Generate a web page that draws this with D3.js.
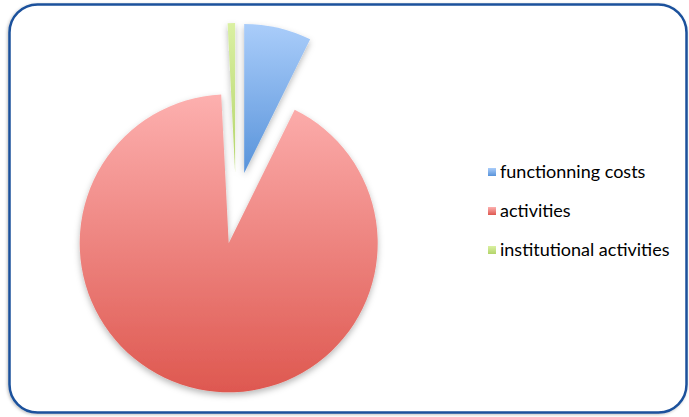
<!DOCTYPE html>
<html>
<head>
<meta charset="utf-8">
<script src="https://cdn.jsdelivr.net/npm/d3@7"></script>
<style>
  body { margin: 0; background: #fff; }
  svg { display: block; }
</style>
</head>
<body>
<div id="chart"></div>
<script>
// slice data (percent)
const categories = ["functionning costs", "activities", "institutional activities"];
const values = [7.3, 91.9, 0.8];
const topColors = ["#aacdfa", "#fdb0af", "#daf0a2"];
const bottomColors = ["#5893da", "#de5850", "#b3d46a"];

const width = 689, height = 417;

const svg = d3.select("#chart").append("svg")
    .attr("width", width)
    .attr("height", height);

const defs = svg.append("defs");

// soft shadow under the slices
const shadow = defs.append("filter")
    .attr("id", "shadow")
    .attr("x", "-20%").attr("y", "-20%")
    .attr("width", "140%").attr("height", "140%");
shadow.append("feDropShadow")
    .attr("dx", 0).attr("dy", 3)
    .attr("stdDeviation", 3)
    .attr("flood-color", "#000")
    .attr("flood-opacity", 0.28);

const frameShadow = defs.append("filter")
    .attr("id", "frameShadow")
    .attr("x", "-5%").attr("y", "-5%")
    .attr("width", "110%").attr("height", "110%");
frameShadow.append("feDropShadow")
    .attr("dx", -1).attr("dy", 1)
    .attr("stdDeviation", 1.5)
    .attr("flood-color", "#000")
    .attr("flood-opacity", 0.25);

categories.forEach((c, i) => {
    let g = defs.append("linearGradient")
        .attr("id", "grad" + i)
        .attr("x1", "0%").attr("y1", "0%")
        .attr("x2", "0%").attr("y2", "100%");
    g.append("stop").attr("offset", "0%").attr("stop-color", topColors[i]);
    g.append("stop").attr("offset", "100%").attr("stop-color", bottomColors[i]);
});

// frame
svg.append("rect")
    .attr("x", 9.5)
    .attr("y", 4.5)
    .attr("width", 677)
    .attr("height", 408)
    .attr("rx", 28)
    .attr("fill", "#fff")
    .attr("stroke", "#1a519c")
    .attr("stroke-width", 2.5)
    .attr("filter", "url(#frameShadow)");

// exploded pie
const cx = 236, cy = 208, radius = 149, explode = 36;

const pie = d3.pie().sort(null).value(d => d);
const arc = d3.arc().innerRadius(0).outerRadius(radius);
const arcs = pie(values);

const pieG = svg.append("g")
    .attr("transform", `translate(${cx},${cy})`)
    .attr("filter", "url(#shadow)");

pieG.selectAll("path")
    .data(arcs)
    .enter()
    .append("path")
    .attr("d", arc)
    .attr("fill", (d, i) => "url(#grad" + i + ")")
    .attr("transform", d => {
        let a = (d.startAngle + d.endAngle) / 2;
        return `translate(${explode * Math.sin(a)},${-explode * Math.cos(a)})`;
    });

// legend
const legend = svg.append("g")
    .attr("transform", "translate(488, 172)");

const item = legend.selectAll("g")
    .data(categories)
    .enter()
    .append("g")
    .attr("transform", (d, i) => `translate(0, ${i * 39})`);

item.append("rect")
    .attr("x", 0)
    .attr("y", -4)
    .attr("width", 8)
    .attr("height", 8)
    .attr("fill", (d, i) => "url(#grad" + i + ")");

item.append("text")
    .attr("x", 12)
    .attr("y", 6)
    .attr("font-family", "Lato, 'Open Sans', sans-serif")
    .attr("font-size", 18)
    .attr("fill", "#000")
    .text(d => d);
</script>
</body>
</html>
